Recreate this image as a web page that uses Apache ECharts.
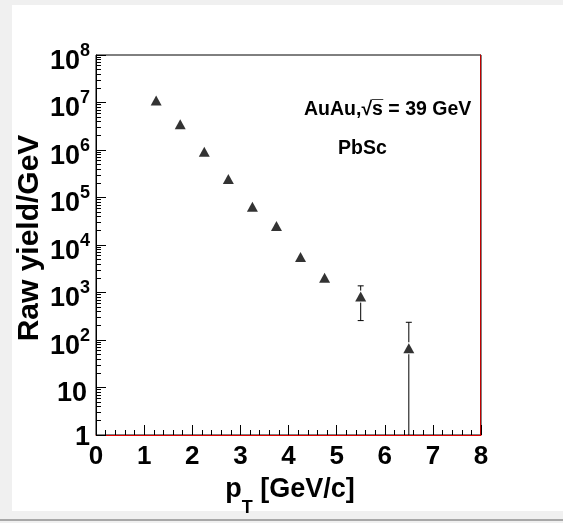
<!DOCTYPE html>
<html>
<head>
<meta charset="utf-8">
<style>
  html, body { margin: 0; padding: 0; background: #f0f0f0; }
  #chart { width: 563px; height: 523px; }
</style>
<script src="https://cdn.jsdelivr.net/npm/echarts@6/dist/echarts.min.js"></script>
</head>
<body>
<div id="chart"></div>
<script>
// Raw photon yield per GeV vs transverse momentum
const pt = [1.25, 1.75, 2.25, 2.75, 3.25, 3.75, 4.25, 4.75, 5.5, 6.5];
const rawYield = [1.1e7, 3.5e6, 9.2e5, 2.45e5, 6.4e4, 2.5e4, 5.6e3, 2.05e3, 820, 67];
// error bar bounds (null = bar hidden under the marker; 0 = extends below the axis)
const errLow  = [null, null, null, null, null, null, null, null, 256, 0];
const errHigh = [null, null, null, null, null, null, null, null, 1380, 236];

const xTicks = [0, 1, 2, 3, 4, 5, 6, 7, 8];
const yDecades = [0, 1, 2, 3, 4, 5, 6, 7, 8];

// minor tick positions on the log axis: 2..9 x 10^n
const yMinor = [];
for (let n = 0; n < 8; n++) {
  for (let k = 2; k <= 9; k++) yMinor.push(k * Math.pow(10, n));
}
const yMajor = yDecades.map(n => Math.pow(10, n));

const FONT = '"Liberation Sans", Arial, Helvetica, sans-serif';

const chart = echarts.init(document.getElementById('chart'), null, { renderer: 'canvas' });

const points = pt.map((x, i) => [x, rawYield[i]]);
const bars = pt.map((x, i) => [x, rawYield[i], errLow[i], errHigh[i]])
  .filter(d => d[3] !== null);

function yLabel(v) {
  const n = Math.round(Math.log10(v));
  if (n === 0) return '{p|1}';
  if (n === 1) return '{b|10}{g| }';
  return '{b|10}{s|' + n + '}';
}

const option = {
  backgroundColor: '#f0f0f0',
  animation: false,
  grid: {
    left: 96, right: 82, top: 55, bottom: 88,
    show: true, borderColor: '#000', borderWidth: 1, backgroundColor: '#fff'
  },
  xAxis: {
    type: 'value', min: 0, max: 8, interval: 1,
    axisLine: { show: true, lineStyle: { color: '#e00000', width: 1 } },
    axisTick: { show: true, inside: true, length: 10, lineStyle: { color: '#000' } },
    minorTick: { show: true, splitNumber: 5, length: 5, lineStyle: { color: '#000' } },
    splitLine: { show: false },
    axisLabel: {
      margin: 9,
      color: '#000', fontFamily: FONT, fontWeight: 'bold', fontSize: 26,
      customValues: xTicks
    }
  },
  yAxis: [
    {
      type: 'log', logBase: 10, min: 1, max: 1e8, interval: 1,
      axisLine: { show: true, lineStyle: { color: '#000' } },
      axisTick: { show: true, inside: true, length: 10, lineStyle: { color: '#000' }, customValues: yMajor },
      splitLine: { show: false },
      axisLabel: {
        margin: 6,
        customValues: yMajor,
        formatter: yLabel,
        rich: {
          b: { fontFamily: FONT, fontWeight: 'bold', fontSize: 27, color: '#000', lineHeight: 26, padding: [13, 0, 0, 0] },
          s: { fontFamily: FONT, fontWeight: 'bold', fontSize: 18, color: '#000', lineHeight: 19, verticalAlign: 'top' },
          g: { fontFamily: FONT, fontSize: 18, lineHeight: 19, width: 3, verticalAlign: 'top' },
          p: { fontFamily: FONT, fontWeight: 'bold', fontSize: 27, color: '#000', lineHeight: 26, padding: [6, 0, 0, 0] }
        }
      }
    },
    {
      // minor ticks of the log axis
      type: 'log', logBase: 10, min: 1, max: 1e8, position: 'left',
      axisLine: { show: false },
      axisTick: { show: true, inside: true, length: 5, lineStyle: { color: '#000' }, customValues: yMinor },
      axisLabel: { show: false },
      splitLine: { show: false }
    },
    {
      // red histogram frame edge on the right
      type: 'log', logBase: 10, min: 1, max: 1e8, position: 'right', offset: -1,
      axisLine: { show: true, lineStyle: { color: '#c00000', width: 1 } },
      axisTick: { show: false }, axisLabel: { show: false }, splitLine: { show: false }
    }
  ],
  graphic: [
    { type: 'rect', z: -10, silent: true, shape: { x: 12, y: 5, width: 551, height: 506 }, style: { fill: '#fff' } },
    { type: 'rect', z: -10, silent: true, shape: { x: 0, y: 519, width: 563, height: 2 }, style: { fill: '#a8a8a8' } },
    {
      type: 'text', z: 10, left: 304, top: 100,
      style: { text: 'AuAu,\u221As\u0305 = 39 GeV', font: 'bold 19.5px ' + FONT, fill: '#000' }
    },
    {
      type: 'text', z: 10, left: 338, top: 139,
      style: { text: 'PbSc', font: 'bold 19.5px ' + FONT, fill: '#000' }
    },
    {
      type: 'text', z: 10, x: 30, y: 238, rotation: Math.PI / 2,
      style: { text: 'Raw yield/GeV', font: 'bold 30px ' + FONT, fill: '#000', align: 'center', verticalAlign: 'middle' }
    },
    {
      type: 'text', z: 10, x: 290, y: 492,
      style: {
        text: '{p|p}{t|T}{p| [GeV/c]}', align: 'center', verticalAlign: 'middle',
        rich: {
          p: { font: 'bold 27px ' + FONT, fill: '#000', lineHeight: 32, verticalAlign: 'top' },
          t: { font: 'bold 18px ' + FONT, fill: '#000', lineHeight: 32, verticalAlign: 'bottom', padding: [0, 0, -9, 0] }
        }
      }
    }
  ],
  series: [
    {
      type: 'custom',
      name: 'errors',
      clip: true,
      data: bars,
      encode: { x: 0, y: 1 },
      renderItem: function (params, api) {
        const x = api.value(0), y = api.value(1), lo = api.value(2), hi = api.value(3);
        const cs = params.coordSys;
        const c = api.coord([x, y]);
        const top = api.coord([x, hi]);
        const bottomY = lo > 0 ? api.coord([x, lo])[1] : cs.y + cs.height;
        const half = 3;
        const children = [
          { type: 'line', shape: { x1: c[0], y1: top[1], x2: c[0], y2: c[1] - 6 }, style: { stroke: '#000', lineWidth: 1 } },
          { type: 'line', shape: { x1: c[0] - half, y1: top[1], x2: c[0] + half, y2: top[1] }, style: { stroke: '#000', lineWidth: 1 } },
          { type: 'line', shape: { x1: c[0], y1: c[1] + 6, x2: c[0], y2: bottomY }, style: { stroke: '#000', lineWidth: 1 } }
        ];
        if (lo > 0) {
          children.push({ type: 'line', shape: { x1: c[0] - half, y1: bottomY, x2: c[0] + half, y2: bottomY }, style: { stroke: '#000', lineWidth: 1 } });
        }
        return { type: 'group', children: children };
      }
    },
    {
      type: 'scatter',
      name: 'PbSc',
      data: points,
      symbol: 'triangle',
      symbolSize: [11, 10],
      itemStyle: { color: '#000' },
      z: 5
    }
  ]
};

chart.setOption(option);
</script>
</body>
</html>
